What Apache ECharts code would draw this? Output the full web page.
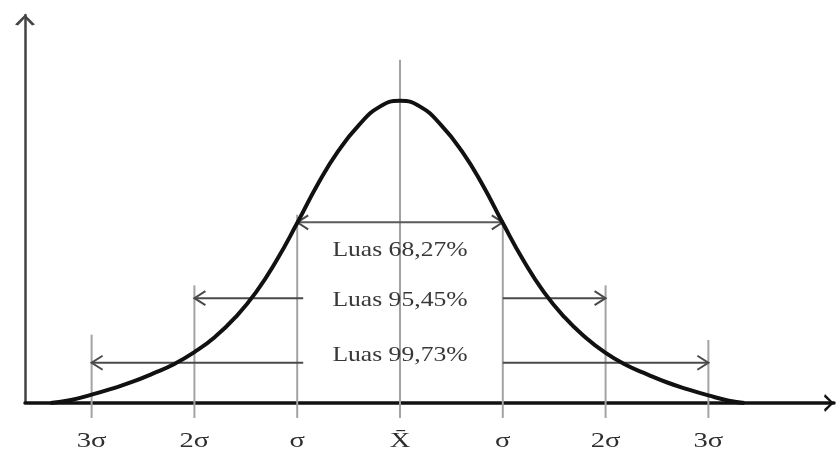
<!DOCTYPE html>
<html>
<head>
<meta charset="utf-8">
<script src="https://cdn.jsdelivr.net/npm/echarts@6/dist/echarts.min.js"></script>
<style>
  html, body { margin: 0; padding: 0; background: #fff; }
  #chart { width: 838px; height: 459px; }
</style>
</head>
<body>
<div id="chart"></div>
<script>
// Bell curve, x in units of sigma from the mean, y as density
const curveX = [-3.4, -3.2, -3.0, -2.8, -2.6, -2.4, -2.2, -2.0, -1.8, -1.6, -1.4, -1.2, -1.0, -0.8, -0.6, -0.4, -0.2,
                0, 0.2, 0.4, 0.6, 0.8, 1.0, 1.2, 1.4, 1.6, 1.8, 2.0, 2.2, 2.4, 2.6, 2.8, 3.0, 3.2, 3.35];
const curveY = [0, 0.004, 0.011, 0.019, 0.028, 0.039, 0.051, 0.067, 0.087, 0.113, 0.146, 0.188, 0.237, 0.288, 0.332, 0.366, 0.390,
                0.398, 0.390, 0.366, 0.332, 0.288, 0.237, 0.188, 0.146, 0.113, 0.087, 0.066, 0.050, 0.038, 0.027, 0.018, 0.010, 0.003, 0];

// Sigma guide lines and their labels
const sigmaTicks = [-3, -2, -1, 0, 1, 2, 3];
const tickLabels = ['3σ', '2σ', 'σ', 'X\u0304', 'σ', '2σ', '3σ'];
const guideTop = [0.090, 0.155, 0.248, 0.452, 0.241, 0.155, 0.083];

// Area spans: half-width in sigma, height of the arrow, caption
const spanSigma = [1, 2, 3];
const spanLevel = [0.238, 0.138, 0.053];
const spanLabels = ['Luas 68,27%', 'Luas 95,45%', 'Luas 99,73%'];

const SERIF = '"Liberation Serif", "DejaVu Serif", serif';
const textDy = [28, 2, -7];      // caption offset from its arrow (px)
const splitAtText = [false, true, true];
const CHEVRON = 'path://M0,10 L10,0 L20,10 L17,11 L10,3.5 L3,11 Z';

const chart = echarts.init(document.getElementById('chart'));

function arrowHead(x, y, dir, color) {
  return {
    type: 'polyline',
    shape: { points: [[x - dir * 11, y - 7], [x, y], [x - dir * 11, y + 7]] },
    style: { stroke: color, lineWidth: 2, fill: null }
  };
}

chart.setOption({
  backgroundColor: '#ffffff',
  animation: false,
  grid: { left: 25, right: 4, top: 15, bottom: 56 },
  xAxis: {
    type: 'value',
    min: -3.648,
    max: 4.222,
    splitLine: { show: false },
    axisTick: { show: false },
    axisLabel: { show: false },
    axisLine: {
      onZero: false,
      symbol: ['none', CHEVRON],
      symbolSize: [18, 16],
      symbolOffset: [0, -5],
      lineStyle: { color: '#111', width: 3.5 }
    }
  },
  yAxis: {
    type: 'value',
    min: 0,
    max: 0.511,
    splitLine: { show: false },
    axisTick: { show: false },
    axisLabel: { show: false },
    axisLine: {
      onZero: false,
      symbol: ['none', CHEVRON],
      symbolSize: [20, 17],
      symbolOffset: [0, -5],
      lineStyle: { color: '#444', width: 2.5 }
    }
  },
  series: [
    {
      name: 'guides',
      type: 'custom',
      clip: false,
      z: 1,
      encode: { x: 0, y: 1 },
      data: sigmaTicks.map((v, i) => [v, guideTop[i]]),
      renderItem: function (params, api) {
        const i = params.dataIndex;
        const top = api.coord([api.value(0), api.value(1)]);
        const base = api.coord([api.value(0), 0]);
        return {
          type: 'group',
          children: [
            {
              type: 'line',
              shape: { x1: top[0], y1: top[1], x2: base[0], y2: base[1] + 15 },
              style: { stroke: '#a3a3a3', lineWidth: 2 }
            },
            {
              type: 'text',
              x: base[0],
              y: base[1] + 38,
              scaleX: 1.3,
              style: {
                text: tickLabels[i],
                fill: '#2e2e2e',
                font: '22px ' + SERIF,
                align: 'center',
                verticalAlign: 'middle'
              }
            }
          ]
        };
      }
    },
    {
      name: 'spans',
      type: 'custom',
      clip: false,
      z: 2,
      encode: { x: 0, y: 1 },
      data: spanSigma.map((k, i) => [k, spanLevel[i]]),
      renderItem: function (params, api) {
        const i = params.dataIndex;
        const k = api.value(0), lvl = api.value(1);
        const L = api.coord([-k, lvl]);
        const R = api.coord([k, lvl]);
        const C = api.coord([0, lvl]);
        const color = '#4a4a4a';
        const children = [];
        if (splitAtText[i]) {
          const a = api.coord([-1, lvl]);
          const b = api.coord([1, lvl]);
          children.push({ type: 'line', shape: { x1: L[0], y1: L[1], x2: a[0] + 6, y2: a[1] },
                          style: { stroke: color, lineWidth: 2 } });
          children.push({ type: 'line', shape: { x1: b[0], y1: b[1], x2: R[0], y2: R[1] },
                          style: { stroke: color, lineWidth: 2 } });
        } else {
          children.push({ type: 'line', shape: { x1: L[0], y1: L[1], x2: R[0], y2: R[1] },
                          style: { stroke: '#5a5a5a', lineWidth: 2 } });
        }
        children.push(arrowHead(L[0], L[1], -1, color));
        children.push(arrowHead(R[0], R[1], 1, color));
        children.push({
          type: 'text',
          x: C[0],
          y: C[1] + textDy[i],
          scaleX: 1.22,
          style: {
            text: spanLabels[i],
            fill: '#383838',
            font: '21px ' + SERIF,
            align: 'center',
            verticalAlign: 'middle'
          }
        });
        return { type: 'group', children: children };
      }
    },
    {
      name: 'curve',
      type: 'line',
      z: 5,
      smooth: 0.5,
      showSymbol: false,
      data: curveX.map((x, i) => [x, curveY[i]]),
      lineStyle: { color: '#111', width: 4 }
    }
  ]
});
</script>
</body>
</html>
